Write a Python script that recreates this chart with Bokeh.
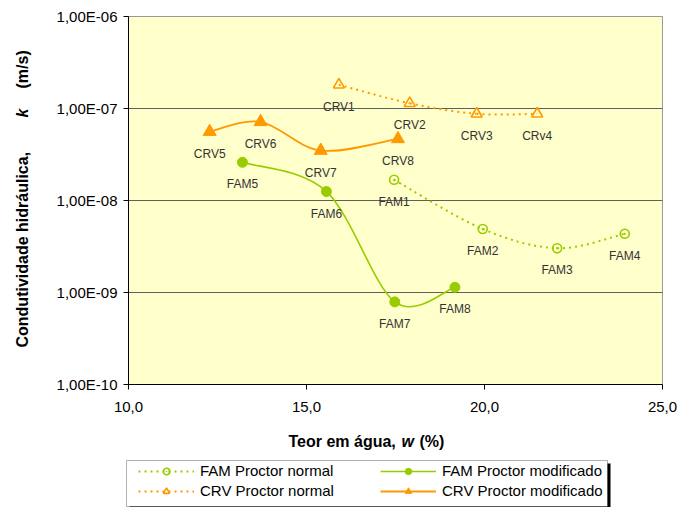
import math
from bokeh.plotting import figure
from bokeh.layouts import column, row
from bokeh.models import (Range1d, FixedTicker, CustomJSTickFormatter, Label, Legend,
                          LegendItem, BoxAnnotation, ColumnDataSource)
from bokeh.core.properties import value
from bokeh.embed import file_html
from bokeh.resources import INLINE

# ---------------- data ----------------
fam_n_w = [17.46, 19.95, 22.04, 23.94]
fam_n_k = [1.68e-8, 4.9e-9, 3.03e-9, 4.35e-9]
fam_n_lbl = ["FAM1", "FAM2", "FAM3", "FAM4"]

fam_m_w = [13.20, 15.56, 17.48, 19.17]
fam_m_k = [2.6e-8, 1.25e-8, 7.9e-10, 1.14e-9]
fam_m_lbl = ["FAM5", "FAM6", "FAM7", "FAM8"]

crv_n_w = [15.91, 17.90, 19.78, 21.48]
crv_n_k = [1.81e-7, 1.14e-7, 8.75e-8, 8.75e-8]
crv_n_lbl = ["CRV1", "CRV2", "CRV3", "CRv4"]

crv_m_w = [12.28, 13.71, 15.40, 17.57]
crv_m_k = [5.6e-8, 7.16e-8, 3.49e-8, 4.67e-8]
crv_m_lbl = ["CRV5", "CRV6", "CRV7", "CRV8"]

x_ticks = [10, 15, 20, 25]
x_tick_labels = ["10,0", "15,0", "20,0", "25,0"]
y_exps = [-10, -9, -8, -7, -6]
y_tick_labels = ["1,00E-10", "1,00E-09", "1,00E-08", "1,00E-07", "1,00E-06"]

series_names = ["FAM Proctor normal", "CRV Proctor normal",
                "FAM Proctor modificado", "CRV Proctor modificado"]

GREEN = "#99CC00"
ORANGE = "#FF9900"
FONT = "Liberation Sans"

# ---------------- main figure ----------------
p = figure(width=635, height=430, output_backend="svg", toolbar_location=None,
           x_range=Range1d(10, 25), y_range=Range1d(1e-10, 1e-6), y_axis_type="log",
           min_border_left=83, min_border_right=18, min_border_top=16, min_border_bottom=46,
           background_fill_color="#FFFFCC", border_fill_color="white")
p.outline_line_color = "#999999"
p.outline_line_width = 1

p.xaxis.ticker = FixedTicker(ticks=x_ticks)
p.xaxis.formatter = CustomJSTickFormatter(args=dict(xt=x_ticks, xl=x_tick_labels),
                                          code="const i = xt.findIndex(t => Math.abs(t - tick) < 1e-9); return i >= 0 ? xl[i] : '';")
y_ticks = [10.0 ** e for e in y_exps]
p.yaxis.ticker = FixedTicker(ticks=y_ticks, minor_ticks=[])
p.yaxis.formatter = CustomJSTickFormatter(args=dict(ye=y_exps, yl=y_tick_labels),
                                          code="const e = Math.round(Math.log10(tick)); const i = ye.indexOf(e); return i >= 0 ? yl[i] : '';")
for ax in (p.xaxis[0], p.yaxis[0]):
    ax.axis_line_color = "black"
    ax.axis_line_width = 1
    ax.major_tick_line_color = "black"
    ax.major_tick_out = 5
    ax.major_tick_in = 0
    ax.minor_tick_line_color = None
    ax.major_label_text_font = FONT
    ax.major_label_text_font_size = "15px"
    ax.major_label_text_color = "black"
p.xaxis.major_label_standoff = 12
p.yaxis.major_label_standoff = 6

p.xgrid.grid_line_color = None
p.ygrid.ticker = FixedTicker(ticks=y_ticks, minor_ticks=[])
p.ygrid.grid_line_color = "#5f5f5f"
p.ygrid.grid_line_width = 1


# ---------------- smoothed curves (Catmull-Rom -> cubic Bezier in x / log10 k space) ----------------
def bezier_source(xs, ks):
    ly = [math.log10(k) for k in ks]
    n = len(xs)
    tx, ty = [], []
    for i in range(n):
        a = max(i - 1, 0)
        b = min(i + 1, n - 1)
        tx.append((xs[b] - xs[a]) / 2.0)
        ty.append((ly[b] - ly[a]) / 2.0)
    d = dict(x0=[], y0=[], x1=[], y1=[], cx0=[], cy0=[], cx1=[], cy1=[])
    for i in range(n - 1):
        d["x0"].append(xs[i]); d["y0"].append(ks[i])
        d["x1"].append(xs[i + 1]); d["y1"].append(ks[i + 1])
        d["cx0"].append(xs[i] + tx[i] / 3.0); d["cy0"].append(10 ** (ly[i] + ty[i] / 3.0))
        d["cx1"].append(xs[i + 1] - tx[i + 1] / 3.0); d["cy1"].append(10 ** (ly[i + 1] - ty[i + 1] / 3.0))
    return ColumnDataSource(d)


STYLES = [
    dict(color=GREEN, dash="2 4", width=2, marker="circle_dot", size=9, fill=None, mlw=1.6),
    dict(color=ORANGE, dash="2 4", width=2, marker="triangle", size=11, fill=None, mlw=1.6),
    dict(color=GREEN, dash="solid", width=1.6, marker="circle", size=10, fill=GREEN, mlw=1),
    dict(color=ORANGE, dash="solid", width=1.8, marker="triangle", size=13, fill=ORANGE, mlw=1),
]


def draw(fig, xs, ks, st, visible=True):
    c = fig.bezier(x0="x0", y0="y0", x1="x1", y1="y1", cx0="cx0", cy0="cy0", cx1="cx1", cy1="cy1",
                   source=bezier_source(xs, ks),
                   line_color=st["color"], line_width=st["width"],
                   line_dash=st["dash"], line_cap="butt", visible=visible)
    m = fig.scatter(xs, ks, marker=st["marker"], size=st["size"], line_color=st["color"],
                    line_width=st["mlw"], fill_color=st["fill"], visible=visible)
    return c, m


all_series = [(fam_n_w, fam_n_k, fam_n_lbl), (crv_n_w, crv_n_k, crv_n_lbl),
              (fam_m_w, fam_m_k, fam_m_lbl), (crv_m_w, crv_m_k, crv_m_lbl)]
for (xs, ks, lbl), st in zip(all_series, STYLES):
    draw(p, xs, ks, st)
for xs, ks, lbl in all_series:
    p.text(xs, ks, text=lbl, y_offset=22, text_align="center", text_baseline="middle",
           text_font=value(FONT), text_font_size="12px", text_color="#333333")


# ---------------- helper figures for titles and legend ----------------
def blank(w, h):
    f = figure(width=w, height=h, output_backend="svg", toolbar_location=None,
               x_range=Range1d(0, w), y_range=Range1d(0, h),
               x_axis_location=None, y_axis_location=None,
               min_border=0, min_border_left=0, min_border_right=0,
               min_border_top=0, min_border_bottom=0,
               background_fill_color="white", border_fill_color="white")
    f.outline_line_color = None
    f.xgrid.grid_line_color = None
    f.ygrid.grid_line_color = None
    return f


def lab(fig, x, y, t, style="bold", angle=0.0, size="16px"):
    fig.add_layout(Label(x=x, y=y, x_units="screen", y_units="screen", text=t, angle=angle,
                         text_align="left", text_baseline="middle", text_font=FONT,
                         text_font_size=size, text_font_style=style, text_color="black"))


# y title (left strip; its frame is aligned with the main frame, y 16..384)
fy = blank(45, 430)
lab(fy, 22, 37, "Condutividade hidráulica,", angle=math.pi / 2)
lab(fy, 22, 267, "k", "bold italic", angle=math.pi / 2)
lab(fy, 22, 296, "(m/s)", angle=math.pi / 2)

# x title + legend (bottom strip)
fb = blank(680, 77)
lab(fb, 288, 66, "Teor em água,")
lab(fb, 401, 66, "w", "bold italic")
lab(fb, 419, 66, "(%)")

fb.add_layout(BoxAnnotation(left=129, right=610, top=44, bottom=-3,
                            left_units="screen", right_units="screen",
                            top_units="screen", bottom_units="screen",
                            fill_color="black", fill_alpha=1, line_color=None))
fb.add_layout(BoxAnnotation(left=126, right=607, top=47, bottom=1,
                            left_units="screen", right_units="screen",
                            top_units="screen", bottom_units="screen",
                            fill_color="white", fill_alpha=1, line_color="black", line_width=1))

# hidden copies of the series, used only for the legend glyphs
leg_r = [draw(fb, xs, ks, st, visible=False) for (xs, ks, lbl), st in zip(all_series, STYLES)]


def legend(idx, x):
    items = [LegendItem(label=series_names[i], renderers=list(leg_r[i])) for i in idx]
    lg = Legend(items=items, location=(x, 4), orientation="vertical",
                glyph_width=56, glyph_height=16, label_height=16, label_standoff=6,
                spacing=3, padding=4, margin=0, border_line_alpha=0,
                background_fill_alpha=0, inactive_fill_alpha=0,
                label_text_font=FONT, label_text_font_size="15px",
                label_text_color="black")
    fb.add_layout(lg, "center")


legend([0, 1], 134)
legend([2, 3], 376)

layout = column(row(fy, p), fb)
open("out.html", "w").write(file_html(layout, INLINE))
